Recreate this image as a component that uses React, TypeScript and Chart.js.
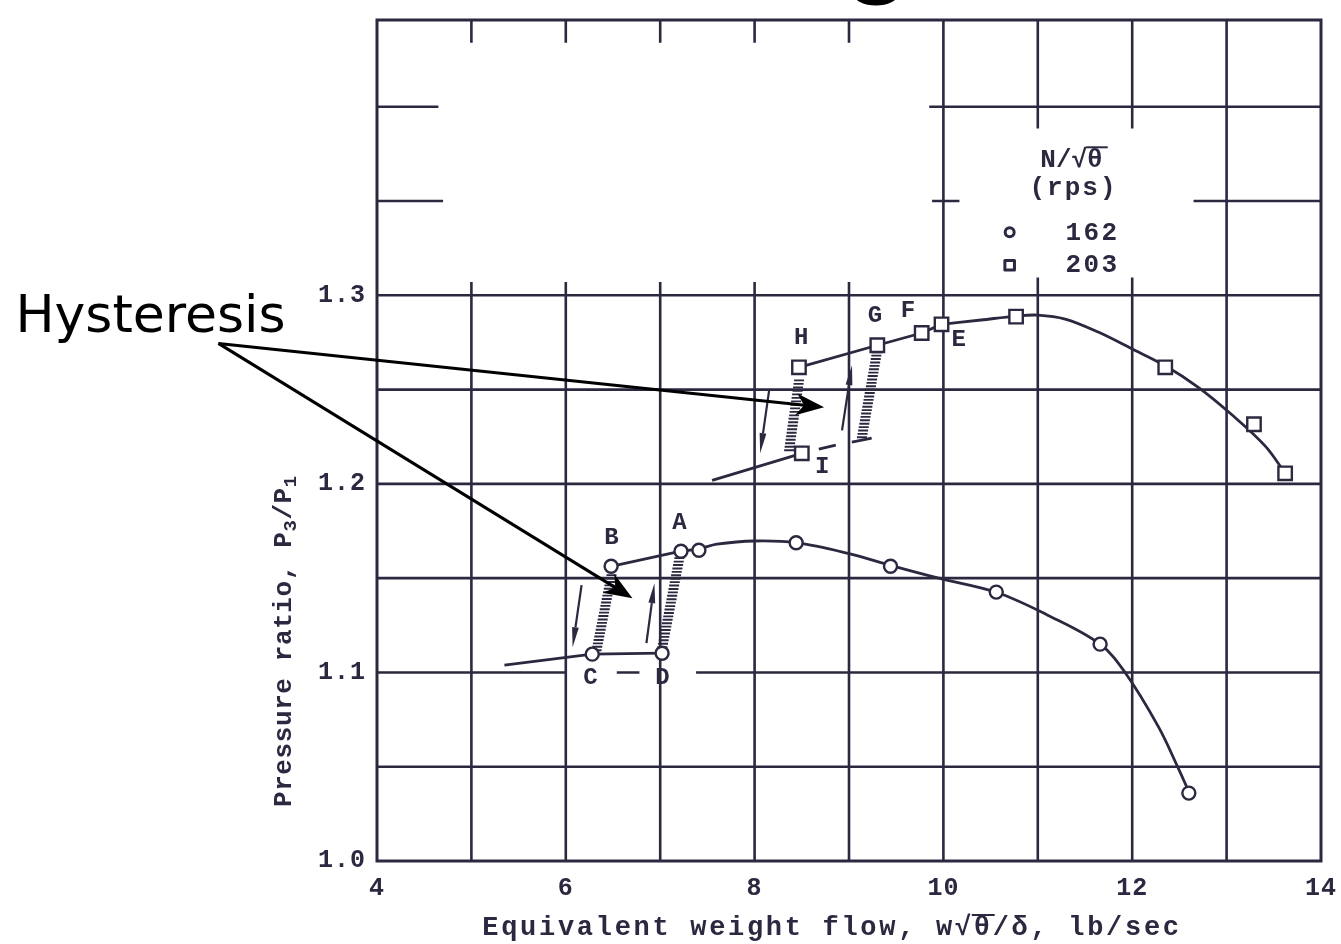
import React, { useEffect, useRef } from 'react';
import { Chart, registerables } from 'chart.js';

Chart.register(...registerables);

// ---------------- data ----------------
const X_MIN = 4;
const X_MAX = 14;
const Y_MIN = 1.0;
const Y_MAX = 1.446;
const xTickValues = [4, 6, 8, 10, 12, 14];
const yTickValues = [1.0, 1.1, 1.2, 1.3];

const speedLabels = ['162', '203'];

// N/sqrt(theta) = 162 rps (circles)
const rps162X = [6.28, 7.02, 6.48, 7.22, 7.41, 8.44, 9.44, 10.56, 11.66, 12.6];
const rps162Y = [1.1097, 1.1102, 1.1563, 1.1643, 1.1648, 1.1688, 1.1563, 1.1426, 1.115, 1.036];

// N/sqrt(theta) = 203 rps (squares)
const rps203X = [8.5, 8.47, 9.3, 9.77, 9.98, 10.77, 12.35, 13.29, 13.62];
const rps203Y = [1.2162, 1.2618, 1.2735, 1.28, 1.2846, 1.2887, 1.2618, 1.2316, 1.2056];

// faired curves
const curve162X = [7.22, 7.41, 7.6, 8.0, 8.44, 9.0, 9.44, 9.95, 10.56, 11.1, 11.66, 11.93, 12.28, 12.49, 12.58];
const curve162Y = [1.1643, 1.1655, 1.168, 1.1697, 1.1688, 1.163, 1.1568, 1.15, 1.1425, 1.1305, 1.115, 1.0996, 1.071, 1.049, 1.039];

const curve203X = [9.98, 10.4, 10.77, 11.0, 11.29, 11.64, 11.99, 12.35, 12.7, 13.05, 13.41, 13.62];
const curve203Y = [1.2846, 1.2869, 1.289, 1.2895, 1.2874, 1.2805, 1.2718, 1.2626, 1.2512, 1.2369, 1.22, 1.2056];

// straight connecting segments
const segLeadCX = [5.35, 6.28, 7.02];
const segLeadCY = [1.1039, 1.1097, 1.1102];
const segBAX = [6.48, 7.22];
const segBAY = [1.1563, 1.1643];
const segLeadIX = [7.55, 8.5];
const segLeadIY = [1.2019, 1.2162];
const segAfterIX = [8.68, 8.86];
const segAfterIY = [1.2184, 1.2205];
const segHGFEX = [8.47, 9.3, 9.77, 9.98];
const segHGFEY = [1.2618, 1.2735, 1.28, 1.2846];
const segGBaseX = [9.03, 9.24];
const segGBaseY = [1.2221, 1.2242];

// point letters
const letterText = ['A', 'B', 'C', 'D', 'E', 'F', 'G', 'H', 'I'];
const letterX = [7.203, 6.484, 6.262, 7.023, 10.163, 9.624, 9.275, 8.493, 8.715];
const letterY = [1.1791, 1.1712, 1.097, 1.097, 1.2761, 1.2915, 1.2889, 1.2772, 1.2088];

// hysteresis hatched bands (top -> bottom)
const hatchTopX = [6.484, 7.203, 8.471, 9.296];
const hatchTopY = [1.1516, 1.1606, 1.2549, 1.2698];
const hatchBotX = [6.326, 7.023, 8.366, 9.137];
const hatchBotY = [1.1118, 1.1134, 1.2178, 1.2247];

// small direction arrows
const dirFromX = [6.167, 6.854, 8.154, 8.926];
const dirFromY = [1.1463, 1.1155, 1.2496, 1.2284];
const dirToX = [6.072, 6.939, 8.059, 9.032];
const dirToY = [1.1134, 1.1473, 1.2163, 1.2629];

// callout
const calloutText = 'Hysteresis';
const calloutTextX = 0.17;
const calloutTextY = 1.2804;
const calloutFromX = 2.32;
const calloutFromY = 1.2745;
const calloutToX = [8.736, 6.706];
const calloutToY = [1.2406, 1.1394];

// paper grid (value, from, to)
const gridH: number[][] = [
  [1.05, 4, 14], [1.1, 4, 6.0], [1.1, 6.54, 6.78], [1.1, 7.38, 14],
  [1.15, 4, 14], [1.2, 4, 14], [1.25, 4, 14], [1.3, 4, 14],
  [1.35, 4, 4.7], [1.35, 9.88, 10.17], [1.35, 12.65, 14],
  [1.4, 4, 4.65], [1.4, 9.85, 14],
];
const gridV: number[][] = [
  [5, 1.0, 1.307], [6, 1.0, 1.307], [7, 1.0, 1.307], [8, 1.0, 1.307], [9, 1.0, 1.307],
  [5, 1.434, Y_MAX], [6, 1.434, Y_MAX], [7, 1.434, Y_MAX], [8, 1.434, Y_MAX], [9, 1.434, Y_MAX],
  [10, 1.0, Y_MAX], [11, 1.0, 1.3095], [11, 1.3885, Y_MAX], [12, 1.0, 1.3095], [12, 1.3885, Y_MAX],
  [13, 1.0, Y_MAX],
];

// ---------------- styling ----------------
const INK = '#2c2840';
const MONO = '"Liberation Mono", "DejaVu Sans Mono", monospace';

const pts = (xs: number[], ys: number[]) => xs.map((x, i) => ({ x, y: ys[i] }));

const lineDs = (xs: number[], ys: number[], smooth = false) => ({
  data: pts(xs, ys),
  showLine: true,
  borderColor: INK,
  borderWidth: 2.8,
  pointRadius: 0,
  tension: smooth ? 0.35 : 0,
  fill: false,
  order: 2,
});

function textSpaced(ctx: CanvasRenderingContext2D, s: string, x: number, y: number, spacing: number) {
  (ctx as any).letterSpacing = spacing + 'px';
  ctx.fillText(s, x, y);
  const w = ctx.measureText(s).width;
  (ctx as any).letterSpacing = '0px';
  return w;
}

const paperPlugin = {
  id: 'paper',
  beforeDraw(chart: any) {
    (chart.ctx as any).letterSpacing = '1px';
  },
  beforeDatasetsDraw(chart: any) {
    const ctx: CanvasRenderingContext2D = chart.ctx;
    const X = (v: number) => chart.scales.x.getPixelForValue(v);
    const Y = (v: number) => chart.scales.y.getPixelForValue(v);
    ctx.save();
    (ctx as any).letterSpacing = '0px';
    ctx.strokeStyle = INK;
    ctx.lineWidth = 2.6;
    ctx.lineCap = 'butt';
    ctx.beginPath();
    for (const [y, x0, x1] of gridH) {
      ctx.moveTo(X(x0), Y(y));
      ctx.lineTo(X(x1), Y(y));
    }
    for (const [x, y0, y1] of gridV) {
      ctx.moveTo(X(x), Y(y0));
      ctx.lineTo(X(x), Y(y1));
    }
    ctx.stroke();
    // frame
    ctx.lineWidth = 3;
    ctx.lineJoin = 'miter';
    ctx.strokeRect(X(X_MIN), Y(Y_MAX), X(X_MAX) - X(X_MIN), Y(Y_MIN) - Y(Y_MAX));

    // hatched hysteresis bands
    ctx.lineWidth = 1.9;
    ctx.beginPath();
    for (let i = 0; i < hatchTopX.length; i++) {
      const x0 = X(hatchTopX[i]), y0 = Y(hatchTopY[i]);
      const x1 = X(hatchBotX[i]), y1 = Y(hatchBotY[i]);
      const L = Math.hypot(x1 - x0, y1 - y0);
      const n = Math.round(L / 3.5);
      for (let k = 0; k <= n; k++) {
        const t = k / n;
        const cx = x0 + (x1 - x0) * t;
        const cy = y0 + (y1 - y0) * t;
        ctx.moveTo(cx - 5, cy);
        ctx.lineTo(cx + 5, cy);
      }
    }
    ctx.stroke();

    // small direction arrows
    ctx.lineWidth = 2.2;
    for (let i = 0; i < dirFromX.length; i++) {
      const x0 = X(dirFromX[i]), y0 = Y(dirFromY[i]);
      const x1 = X(dirToX[i]), y1 = Y(dirToY[i]);
      const L = Math.hypot(x1 - x0, y1 - y0);
      const ux = (x1 - x0) / L, uy = (y1 - y0) / L;
      const hl = 20, hw = 3.4;
      ctx.beginPath();
      ctx.moveTo(x0, y0);
      ctx.lineTo(x1 - ux * hl, y1 - uy * hl);
      ctx.stroke();
      ctx.beginPath();
      ctx.moveTo(x1, y1);
      ctx.lineTo(x1 - ux * hl - uy * hw, y1 - uy * hl + ux * hw);
      ctx.lineTo(x1 - ux * hl + uy * hw, y1 - uy * hl - ux * hw);
      ctx.closePath();
      ctx.fillStyle = INK;
      ctx.fill();
    }
    ctx.restore();
  },
  afterDatasetsDraw(chart: any) {
    const ctx: CanvasRenderingContext2D = chart.ctx;
    const X = (v: number) => chart.scales.x.getPixelForValue(v);
    const Y = (v: number) => chart.scales.y.getPixelForValue(v);
    const area = chart.chartArea;
    ctx.save();
    (ctx as any).letterSpacing = '0px';
    ctx.fillStyle = INK;
    ctx.strokeStyle = INK;

    // point letters
    ctx.font = `bold 24px ${MONO}`;
    ctx.textAlign = 'center';
    ctx.textBaseline = 'middle';
    letterText.forEach((t, i) => ctx.fillText(t, X(letterX[i]), Y(letterY[i])));

    // legend
    ctx.textAlign = 'left';
    ctx.textBaseline = 'middle';
    ctx.font = `bold 26px ${MONO}`;
    {
      const cx = X(11.357), cy = Y(1.3716);
      const parts = ['N/', '\u221A', '\u03B8'];
      (ctx as any).letterSpacing = '0px';
      const widths = parts.map((p) => ctx.measureText(p).width);
      const total = widths.reduce((a, b) => a + b, 0);
      let x = cx - total / 2;
      const xs: number[] = [];
      parts.forEach((p, i) => {
        xs.push(x);
        ctx.fillText(p, x, cy);
        x += widths[i];
      });
      ctx.lineWidth = 2;
      ctx.beginPath();
      ctx.moveTo(xs[2] - 1, cy - 13);
      ctx.lineTo(x + 5, cy - 13);
      ctx.stroke();
      ctx.textAlign = 'center';
      textSpaced(ctx, '(rps)', X(11.378), Y(1.3567), 2);
    }
    ctx.font = `bold 26px ${MONO}`;
    ctx.textAlign = 'center';
    textSpaced(ctx, speedLabels[0], X(11.58), Y(1.3329), 2.5);
    textSpaced(ctx, speedLabels[1], X(11.58), Y(1.3159), 2.5);
    ctx.lineWidth = 3;
    ctx.beginPath();
    ctx.arc(X(10.702), Y(1.3334), 4.5, 0, Math.PI * 2);
    ctx.stroke();
    ctx.lineJoin = 'round';
    ctx.strokeRect(X(10.702) - 4.8, Y(1.3159) - 4.8, 9.6, 9.6);

    // x-axis title
    ctx.font = `bold 27px ${MONO}`;
    ctx.textBaseline = 'middle';
    {
      const parts = ['Equivalent weight flow, w', '\u221A', '\u03B8', '/\u03B4, lb/sec'];
      (ctx as any).letterSpacing = '2.7px';
      const widths = parts.map((p) => ctx.measureText(p).width);
      const total = widths.reduce((a, b) => a + b, 0);
      const cy = area.bottom + 67;
      let x = X(8.82) - total / 2;
      ctx.textAlign = 'left';
      const xs: number[] = [];
      parts.forEach((p, i) => {
        xs.push(x);
        ctx.fillText(p, x, cy);
        x += widths[i];
      });
      (ctx as any).letterSpacing = '0px';
      ctx.lineWidth = 2;
      ctx.beginPath();
      ctx.moveTo(xs[2] - 2, cy - 13);
      ctx.lineTo(xs[3] + 2, cy - 13);
      ctx.stroke();
    }

    // y-axis title (rotated)
    {
      ctx.save();
      ctx.translate(area.left - 94, Y(1.1166));
      ctx.rotate(-Math.PI / 2);
      const parts: [string, boolean][] = [['Pressure ratio, P', false], ['3', true], ['/P', false], ['1', true]];
      const big = `bold 26px ${MONO}`;
      const small = `bold 19px ${MONO}`;
      (ctx as any).letterSpacing = '0.6px';
      const widths = parts.map(([t, sub]) => {
        ctx.font = sub ? small : big;
        return ctx.measureText(t).width;
      });
      const total = widths.reduce((a, b) => a + b, 0);
      let x = -total / 2;
      ctx.textAlign = 'left';
      ctx.textBaseline = 'alphabetic';
      parts.forEach(([t, sub], i) => {
        ctx.font = sub ? small : big;
        ctx.fillText(t, x, sub ? 13 : 8);
        x += widths[i];
      });
      ctx.restore();
    }

    // callout
    ctx.fillStyle = '#000';
    ctx.strokeStyle = '#000';
    (ctx as any).letterSpacing = '0px';
    ctx.font = '52px "DejaVu Sans", sans-serif';
    ctx.textAlign = 'left';
    ctx.textBaseline = 'alphabetic';
    ctx.fillText(calloutText, X(calloutTextX), Y(calloutTextY));
    const sx = X(calloutFromX), sy = Y(calloutFromY);
    for (let i = 0; i < calloutToX.length; i++) {
      const tx = X(calloutToX[i]), ty = Y(calloutToY[i]);
      const L = Math.hypot(tx - sx, ty - sy);
      const ux = (tx - sx) / L, uy = (ty - sy) / L;
      const hl = 28, hw = 11;
      ctx.lineWidth = 3;
      ctx.beginPath();
      ctx.moveTo(sx, sy);
      ctx.lineTo(tx - ux * hl * 0.7, ty - uy * hl * 0.7);
      ctx.stroke();
      ctx.beginPath();
      ctx.moveTo(tx, ty);
      ctx.lineTo(tx - ux * hl - uy * hw, ty - uy * hl + ux * hw);
      ctx.lineTo(tx - ux * hl * 0.72, ty - uy * hl * 0.72);
      ctx.lineTo(tx - ux * hl + uy * hw, ty - uy * hl - ux * hw);
      ctx.closePath();
      ctx.fill();
    }

    // clipped glyph of the page title above the figure
    ctx.lineWidth = 6;
    ctx.beginPath();
    ctx.ellipse(X(9.285), Y(1.4606), 20, 10, 0, 0, Math.PI * 2);
    ctx.stroke();

    ctx.restore();
  },
};

function makeConfig(): any {
  return {
    type: 'scatter',
    data: {
      datasets: [
        {
          label: speedLabels[0],
          data: pts(rps162X, rps162Y),
          showLine: false,
          pointStyle: 'circle',
          pointRadius: 6.5,
          pointBackgroundColor: '#ffffff',
          pointBorderColor: INK,
          pointBorderWidth: 2.4,
          order: 0,
        },
        {
          label: speedLabels[1],
          data: pts(rps203X, rps203Y),
          showLine: false,
          pointStyle: 'rect',
          pointRadius: 9.5,
          pointBackgroundColor: '#ffffff',
          pointBorderColor: INK,
          pointBorderWidth: 2.4,
          order: 0,
        },
        lineDs(curve162X, curve162Y, true),
        lineDs(curve203X, curve203Y, true),
        lineDs(segLeadCX, segLeadCY),
        lineDs(segBAX, segBAY),
        lineDs(segLeadIX, segLeadIY),
        lineDs(segAfterIX, segAfterIY),
        lineDs(segHGFEX, segHGFEY),
        lineDs(segGBaseX, segGBaseY),
      ],
    },
    options: {
      responsive: false,
      maintainAspectRatio: false,
      animation: false,
      events: [],
      layout: { padding: { left: 0, right: 18, top: 20, bottom: 0 } },
      plugins: {
        legend: { display: false },
        tooltip: { enabled: false },
        title: { display: false },
      },
      scales: {
        x: {
          type: 'linear',
          min: X_MIN,
          max: X_MAX,
          afterFit: (s: any) => {
            s.height = 83;
          },
          grid: { display: false },
          border: { display: false },
          ticks: {
            stepSize: 1,
            autoSkip: false,
            maxRotation: 0,
            padding: 5,
            color: INK,
            font: { family: MONO, size: 25, weight: 'bold' },
            callback: (v: number) => (xTickValues.includes(v) ? String(v) : ''),
          },
        },
        y: {
          type: 'linear',
          min: Y_MIN,
          max: Y_MAX,
          afterFit: (s: any) => {
            s.width = 377;
          },
          grid: { display: false },
          border: { display: false },
          ticks: {
            stepSize: 0.05,
            autoSkip: false,
            padding: 3,
            color: INK,
            font: { family: MONO, size: 25, weight: 'bold' },
            callback: (v: number) => {
              const m = yTickValues.find((t) => Math.abs(t - v) < 1e-6);
              return m === undefined ? '' : m.toFixed(1);
            },
          },
        },
      },
    },
    plugins: [paperPlugin],
  };
}

export default function App() {
  const ref = useRef<HTMLCanvasElement>(null);
  useEffect(() => {
    const chart = new Chart(ref.current as HTMLCanvasElement, makeConfig());
    return () => chart.destroy();
  }, []);
  return (
    <div style={{ position: 'fixed', left: 0, top: 0, width: 1341, height: 944, background: '#ffffff' }}>
      <canvas ref={ref} width={1341} height={944} style={{ display: 'block' }} />
    </div>
  );
}
